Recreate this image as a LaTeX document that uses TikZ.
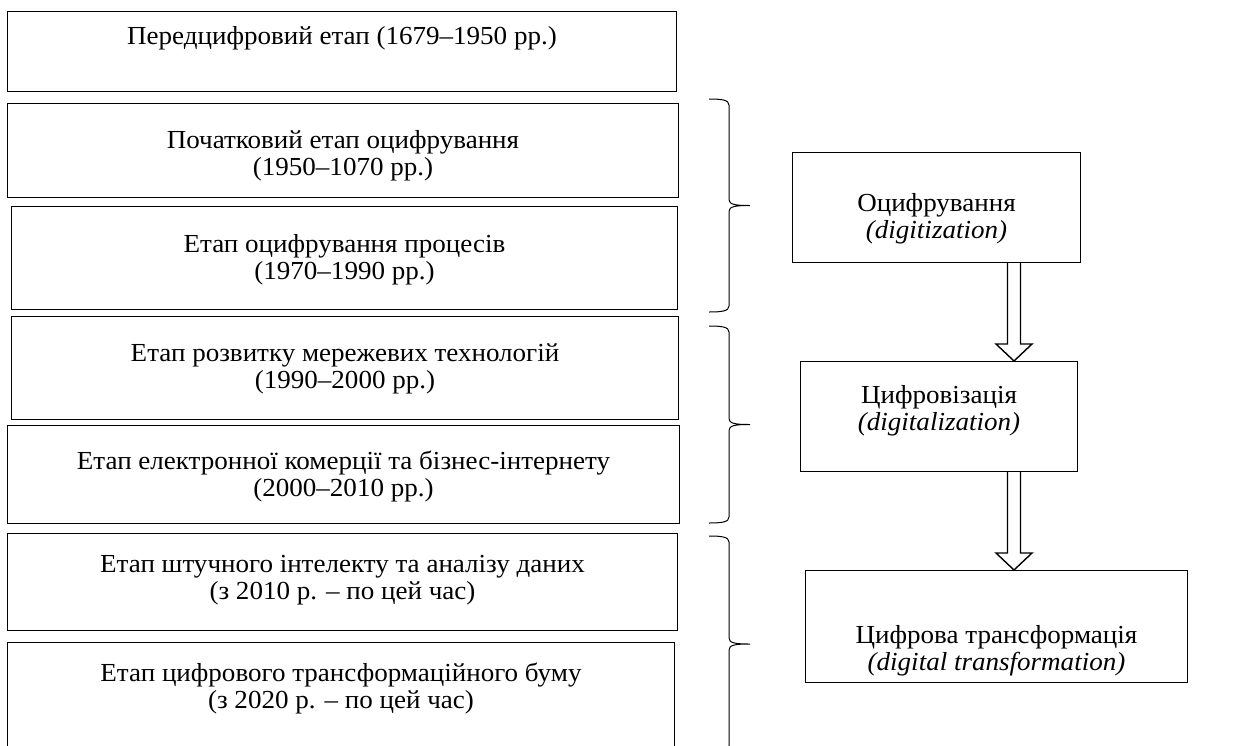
\documentclass[tikz,border=0pt]{standalone}
\usepackage{fontspec}
\setmainfont{Liberation Serif}[FakeStretch=1.04]
\usetikzlibrary{calc}

\begin{document}
\begin{tikzpicture}[x=1pt,y=-1pt,
	stage/.style={draw,line width=1pt,inner sep=0pt,anchor=north west},
	lbl/.style={align=center,inner sep=0pt,font=\fontsize{26}{27}\selectfont},
	hollow/.style={draw,line width=1.4pt,fill=white}]
	\useasboundingbox (0,0) rectangle (1248,745);
	
	% stages, left column
	\node[stage,minimum width=669pt,minimum height=80pt] (b1) at (7,11) {};
	\node[stage,minimum width=671pt,minimum height=94pt] (b2) at (7,103) {};
	\node[stage,minimum width=666pt,minimum height=103pt] (b3) at (11,206) {};
	\node[stage,minimum width=667pt,minimum height=103pt] (b4) at (11,316) {};
	\node[stage,minimum width=672pt,minimum height=98pt] (b5) at (7,425) {};
	\node[stage,minimum width=670pt,minimum height=97pt] (b6) at (7,533) {};
	\node[stage,minimum width=667pt,minimum height=120pt] (b7) at (7,642) {};
	
	\node[lbl] (t1) at ($(b1.north)+(0,27)$) {Передцифровий етап (1679–1950 рр.)};
	\node[lbl] (t2) at ($(b2.north)+(0,53)$) {Початковий етап оцифрування\\(1950–1070 рр.)};
	\node[lbl] (t3) at ($(b3.north)+(0,54)$) {Етап оцифрування процесів\\(1970–1990 рр.)};
	\node[lbl] (t4) at ($(b4.north)+(0,53)$) {Етап розвитку мережевих технологій\\(1990–2000 рр.)};
	\node[lbl] (t5) at ($(b5.north)+(0,51)$) {Етап електронної комерції та бізнес-інтернету\\(2000–2010 рр.)};
	\node[lbl] (t6) at ($(b6.north)+(0,47)$) {Етап штучного інтелекту та аналізу даних\\(з 2010 р. – по цей час)};
	\node[lbl] (t7) at ($(b7.north)+(0,46)$) {Етап цифрового трансформаційного буму\\(з 2020 р. – по цей час)};
	
	% braces
	\foreach \t/\b in {99/312,326/523,536/752}{
		\pgfmathsetmacro{\m}{(\t+\b)/2}
		\draw[line width=1pt] (709,\t) .. controls (722,\t) and (729,\t+1) .. (729,\t+6) -- (729,\m-6) .. controls (729,\m-1) and (735,\m) .. (750,\m) .. controls (735,\m) and (729,\m+1) .. (729,\m+6) -- (729,\b-6) .. controls (729,\b-1) and (722,\b) .. (709,\b);
	}
	
	% concepts, right column
	\node[stage,minimum width=288pt,minimum height=110pt] (r1) at (792,152) {};
	\node[stage,minimum width=277pt,minimum height=110pt] (r2) at (800,361) {};
	\node[stage,minimum width=382pt,minimum height=112pt] (r3) at (805,570) {};
	
	\node[lbl] (c1) at ($(r1.north)+(0,67)$) {Оцифрування\\\textit{(digitization)}};
	\node[lbl] (c2) at ($(r2.north)+(0,50)$) {Цифровізація\\\textit{(digitalization)}};
	\node[lbl] (c3) at ($(r3.north)+(0,81)$) {Цифрова трансформація\\\textit{(digital transformation)}};
	
	% hollow arrows
	\coordinate (ax) at (1014,0);
	\draw[hollow] ($(r1.south -| ax)+(-6.5,0)$) -- ($(r2.north -| ax)+(-6.5,-17)$) -- ($(r2.north -| ax)+(-18,-17)$) -- (r2.north -| ax) -- ($(r2.north -| ax)+(18,-17)$) -- ($(r2.north -| ax)+(6.5,-17)$) -- ($(r1.south -| ax)+(6.5,0)$);
	\draw[hollow] ($(r2.south -| ax)+(-6.5,0)$) -- ($(r3.north -| ax)+(-6.5,-17)$) -- ($(r3.north -| ax)+(-18,-17)$) -- (r3.north -| ax) -- ($(r3.north -| ax)+(18,-17)$) -- ($(r3.north -| ax)+(6.5,-17)$) -- ($(r2.south -| ax)+(6.5,0)$);
\end{tikzpicture}
\end{document}
